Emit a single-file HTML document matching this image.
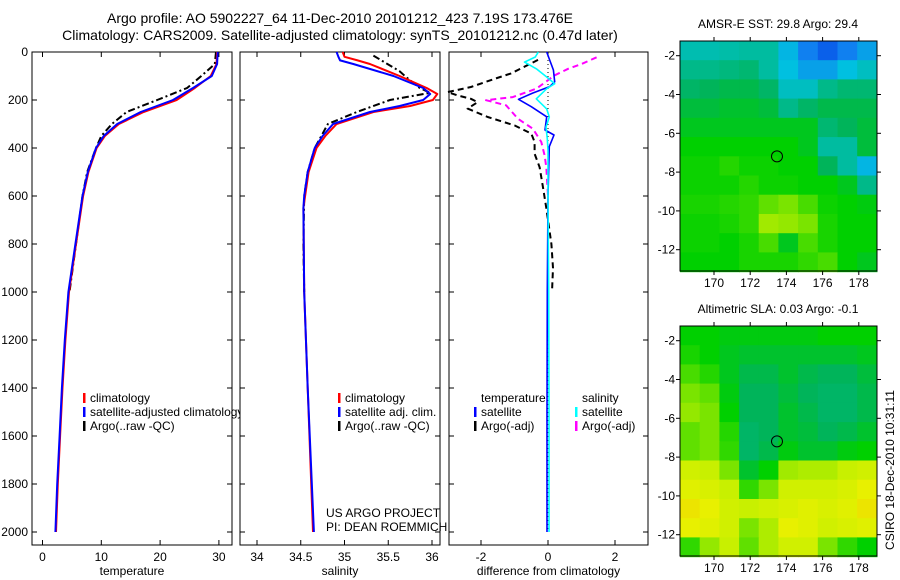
<!DOCTYPE html>
<html><head><meta charset="utf-8">
<style>
html,body{margin:0;padding:0;background:#fff;}
svg{display:block;font-family:"Liberation Sans",sans-serif;}
text{font-size:12px;fill:#000;}
</style></head>
<body>
<svg id="fig" width="900" height="580" viewBox="0 0 900 580" xmlns="http://www.w3.org/2000/svg">
<text x="340" y="23" text-anchor="middle" style="font-size:14px">Argo profile: AO 5902227_64 11-Dec-2010 20101212_423 7.19S 173.476E</text>
<text x="340" y="40" text-anchor="middle" style="font-size:14px">Climatology: CARS2009. Satellite-adjusted climatology: synTS_20101212.nc (0.47d later)</text>
<g id="g1"></g>
<g id="g2"></g>
<g id="g3"></g>
<g id="m1"></g>
<g id="m2"></g>
<text x="0" y="0" transform="translate(894,470) rotate(-90)" text-anchor="middle">CSIRO 18-Dec-2010 10:31:11</text>
</svg>
<script>
// ---------- data ----------
const tDepth = [0,50,100,150,200,250,300,350,400,500,600,800,1000,1200,1400,1600,1800,2000];
const tClim  = [29.7,29.6,28.6,25.9,22.8,17.2,13.0,10.6,9.2,7.8,6.9,5.7,4.5,3.9,3.4,3.0,2.6,2.3];
const tSat   = [29.8,29.7,28.8,25.6,22.2,16.7,12.7,10.4,9.1,7.7,6.8,5.6,4.4,3.8,3.3,2.9,2.5,2.2];
const aDepth = [0,50,100,150,200,250,300,350,400,500,600,800,1000];
const tArgo  = [29.5,29.3,27.0,24.6,19.5,14.3,11.8,10.0,9.1,7.6,6.8,5.7,4.6];
const sDepth = [0,20,35,50,100,150,175,200,225,250,300,350,400,500,600,650,1000,1400,2000];
const sClim  = [34.98,35.0,35.15,35.29,35.63,35.94,36.06,36.01,35.75,35.33,34.91,34.78,34.68,34.59,34.55,34.53,34.54,34.58,34.64];
const sSat   = [34.91,34.93,34.95,35.1,35.56,35.9,35.98,35.9,35.63,35.29,34.87,34.75,34.66,34.58,34.54,34.53,34.54,34.58,34.65];
const sArgoDepth = [15,50,80,100,150,170,200,250,300,400,500,600,800,1000];
const sArgo  = [35.33,35.49,35.63,35.69,35.86,35.98,35.52,35.14,34.81,34.66,34.58,34.54,34.53,34.54];
const dDepthT = [0,75,124,144,171,197,228,270,325,346,394,600,1000,1500,2000];
const dTSat  = [-0.04,0.16,0.2,0.05,-0.45,-0.88,-0.5,-0.04,-0.09,0.18,0.04,0.0,-0.02,-0.03,-0.03];
const dDepthS = [0,21,42,70,104,132,153,195,237,271,313,362,410,600,1000,1500,2000];
const dSSat  = [-0.29,-0.38,-0.7,-0.35,-0.04,0.2,-0.04,-0.35,-0.04,0.04,-0.06,-0.02,0.0,0.0,0.02,0.03,0.03];
const dDepthTA = [33,89,112,146,167,181,195,209,236,271,306,340,375,424,480,564,650,800,900,1000];
const dTArgo = [-0.3,-1.1,-1.6,-2.3,-3.0,-2.7,-2.3,-2.1,-2.4,-1.8,-1.0,-0.5,-0.4,-0.4,-0.25,-0.15,-0.05,0.1,0.15,0.12];
const dDepthSA = [22,50,70,97,153,188,201,222,278,320,375,431,480,600,800,1000];
const dSArgo = [1.45,1.0,0.6,0.2,-0.35,-1.05,-1.85,-1.25,-0.9,-0.45,-0.2,-0.1,-0.05,0.0,0.0,0.0];
const depthTicks = [0,200,400,600,800,1000,1200,1400,1600,1800,2000];
const tTicks = [0,10,20,30];
const sTicks = [34,34.5,35,35.5,36];
const dTicks = [-2,0,2];
// maps: 10 lon columns x 12 lat rows (north to south)
const lonTicks = [170,172,174,176,178];
const latTicks = [-2,-4,-6,-8,-10,-12];
const sstGrid = [
[0.48,0.48,0.49,0.50,0.50,0.40,0.30,0.24,0.30,0.36],
[0.52,0.52,0.53,0.54,0.50,0.42,0.36,0.36,0.42,0.46],
[0.55,0.56,0.57,0.57,0.55,0.46,0.46,0.52,0.54,0.54],
[0.58,0.58,0.59,0.59,0.58,0.52,0.55,0.57,0.57,0.57],
[0.60,0.60,0.60,0.60,0.60,0.60,0.60,0.54,0.56,0.58],
[0.62,0.62,0.62,0.62,0.62,0.62,0.60,0.50,0.50,0.58],
[0.63,0.63,0.65,0.63,0.63,0.62,0.62,0.56,0.50,0.40],
[0.63,0.63,0.63,0.65,0.63,0.63,0.62,0.62,0.60,0.52],
[0.64,0.64,0.65,0.66,0.70,0.72,0.68,0.63,0.62,0.61],
[0.63,0.63,0.64,0.66,0.75,0.74,0.72,0.64,0.62,0.62],
[0.63,0.63,0.62,0.64,0.68,0.60,0.68,0.64,0.62,0.62],
[0.62,0.62,0.62,0.64,0.64,0.64,0.66,0.68,0.62,0.60]];
const slaGrid = [
[0.62,0.62,0.61,0.61,0.61,0.61,0.61,0.62,0.62,0.62],
[0.64,0.62,0.60,0.59,0.59,0.59,0.59,0.59,0.59,0.60],
[0.68,0.65,0.60,0.57,0.57,0.59,0.57,0.56,0.56,0.58],
[0.72,0.70,0.61,0.56,0.56,0.58,0.56,0.55,0.55,0.57],
[0.74,0.72,0.62,0.56,0.56,0.59,0.57,0.55,0.55,0.57],
[0.70,0.72,0.65,0.55,0.56,0.59,0.58,0.56,0.57,0.59],
[0.70,0.72,0.66,0.55,0.57,0.61,0.59,0.59,0.61,0.62],
[0.80,0.78,0.72,0.59,0.62,0.75,0.76,0.76,0.78,0.80],
[0.84,0.82,0.78,0.66,0.72,0.80,0.80,0.80,0.82,0.86],
[0.88,0.86,0.80,0.78,0.80,0.82,0.84,0.82,0.84,0.88],
[0.86,0.84,0.80,0.72,0.76,0.86,0.84,0.80,0.82,0.84],
[0.66,0.74,0.78,0.70,0.76,0.80,0.80,0.72,0.66,0.62]];
const argoLon = 173.48, argoLat = -7.19;

// ---------- helpers ----------
const NS="http://www.w3.org/2000/svg";
function mk(tag,attrs,parent){const e=document.createElementNS(NS,tag);for(const k in attrs)e.setAttribute(k,attrs[k]);parent.appendChild(e);return e;}
const yTop=52, yBot=545;
const yD = d => yTop + d*0.24;

function panel(g,x0,x1,xs,ticks,fmt,label,showY){
  const r=mk('rect',{x:x0,y:yTop,width:x1-x0,height:yBot-yTop,fill:'#fff',stroke:'#000','stroke-width':1},g);
  
  
  ticks.forEach(t=>{const x=xs(t);
    mk('line',{x1:x,x2:x,y1:yTop,y2:yTop+5,stroke:'#000'},g);
    mk('line',{x1:x,x2:x,y1:yBot,y2:yBot-5,stroke:'#000'},g);
    const tx=mk('text',{x:x,y:yBot+16,'text-anchor':'middle'},g);tx.textContent=fmt(t);
    
    
  });
  depthTicks.forEach(d=>{const y=yD(d);
    mk('line',{x1:x0,x2:x0+5,y1:y,y2:y,stroke:'#000'},g);
    mk('line',{x1:x1,x2:x1-5,y1:y,y2:y,stroke:'#000'},g);
    if(showY){const tx=mk('text',{x:x0-4,y:y+4,'text-anchor':'end'},g);tx.textContent=d;
      
      }
  });
  const lb=mk('text',{x:(x0+x1)/2,y:575,'text-anchor':'middle'},g);lb.textContent=label;
  
  
}
function line(g,xs,vals,depths,color,dash,name,w){
  const pts=vals.map((v,i)=>xs(v).toFixed(1)+','+yD(depths[i]).toFixed(1)).join(' ');
  const p=mk('polyline',{points:pts,fill:'none',stroke:color,'stroke-width':w||2,'stroke-dasharray':dash||'none','stroke-linejoin':'round'},g);
  
  
}
function legend(g,x,y,color,txt,name){
  mk('rect',{x:x,y:y-9,width:2.5,height:10,fill:color},g);
  const t=mk('text',{x:x+7,y:y},g);t.textContent=txt;
  
  
}

// ---------- panel 1: temperature ----------
const g1=document.getElementById('g1');
const xT=v=>42.5+v*5.88;
panel(g1,32,232,xT,tTicks,v=>v,'temperature',true);
line(g1,xT,tArgo,aDepth,'#000','7,3,2,3','argo-temperature-line');
line(g1,xT,tClim,tDepth,'#f00',null,'climatology-temperature-line');
line(g1,xT,tSat,tDepth,'#00f',null,'satellite-temperature-line');
legend(g1,83,402,'#f00','climatology','legend-climatology');
legend(g1,83,416,'#00f','satellite-adjusted climatology','legend-satellite-adjusted');
legend(g1,83,430,'#000','Argo(..raw -QC)','legend-argo');

// ---------- panel 2: salinity ----------
const g2=document.getElementById('g2');
const xS=v=>257+(v-34)*87.5;
panel(g2,240,440,xS,sTicks,v=>v,'salinity',false);
line(g2,xS,sArgo,sArgoDepth,'#000','7,3,2,3','argo-salinity-line');
line(g2,xS,sClim,sDepth,'#f00',null,'climatology-salinity-line');
line(g2,xS,sSat,sDepth,'#00f',null,'satellite-salinity-line');
legend(g2,338,402,'#f00','climatology','legend-climatology-sal');
legend(g2,338,416,'#00f','satellite adj. clim.','legend-satellite-sal');
legend(g2,338,430,'#000','Argo(..raw -QC)','legend-argo-sal');
const us=mk('text',{x:326,y:517},g2);us.textContent='US ARGO PROJECT';


const pi=mk('text',{x:326,y:531},g2);pi.textContent='PI: DEAN ROEMMICH';



// ---------- panel 3: difference ----------
const g3=document.getElementById('g3');
const xDf=v=>548+v*33.5;
panel(g3,449,648,xDf,dTicks,v=>v,'difference from climatology',false);
const zl=mk('line',{x1:xDf(0),x2:xDf(0),y1:yTop,y2:yD(2000),stroke:'#000','stroke-width':1,'stroke-dasharray':'1,3'},g3);


line(g3,xDf,dTArgo,dDepthTA,'#000','6,4','argo-temperature-diff');
line(g3,xDf,dSArgo,dDepthSA,'#f0f','6,4','argo-salinity-diff');
line(g3,xDf,dTSat,dDepthT,'#00f',null,'satellite-temperature-diff',1.6);
line(g3,xDf,dSSat,dDepthS,'#0ff',null,'satellite-salinity-diff',1.6);
const lt=mk('text',{x:481,y:402},g3);lt.textContent='temperature';


const ls=mk('text',{x:582,y:402},g3);ls.textContent='salinity';


legend(g3,474,416,'#00f','satellite','legend-temp-satellite');
legend(g3,474,430,'#000','Argo(-adj)','legend-temp-argo');
legend(g3,575,416,'#0ff','satellite','legend-sal-satellite');
legend(g3,575,430,'#f0f','Argo(-adj)','legend-sal-argo');

// ---------- maps ----------
const stops=[[0,[0,0,144]],[0.15,[0,48,224]],[0.3,[16,128,240]],[0.42,[0,192,224]],[0.5,[0,188,160]],[0.56,[0,180,90]],[0.62,[0,208,0]],[0.7,[96,224,0]],[0.78,[200,240,0]],[0.86,[232,240,0]],[0.94,[248,192,0]],[1,[240,120,0]]];
function cmap(v){for(let i=1;i<stops.length;i++){if(v<=stops[i][0]){const a=stops[i-1],b=stops[i],t=(v-a[0])/(b[0]-a[0]);const c=a[1].map((x,k)=>Math.round(x+(b[1][k]-x)*t));return 'rgb('+c.join(',')+')';}}return 'rgb(240,120,0)';}
function map(g,top,grid,title){
  const bx0=680,bx1=877,by0=top,by1=top+230;
  const lonX=l=>714+(l-170)*18.1;
  const latY=l=>top+14.7+(-2-l)*19.4;
  const lon0=168.12,lon1=179.0,lat0=-1.24,lat1=-13.13;
  const nc=grid[0].length,nr=grid.length;
  const dlon=(lon1-lon0)/nc,dlat=(lat0-lat1)/nr;
  grid.forEach((row,r)=>row.forEach((v,c)=>{
    const xa=lonX(lon0+c*dlon),xb=lonX(lon0+(c+1)*dlon);
    const ya=latY(lat0-r*dlat),yb=latY(lat0-(r+1)*dlat);
    const cell=mk('rect',{x:xa.toFixed(1),y:ya.toFixed(1),width:(xb-xa+0.6).toFixed(1),height:(yb-ya+0.6).toFixed(1),fill:cmap(v)},g);
    
    
  }));
  const fr=mk('rect',{x:bx0,y:by0,width:bx1-bx0,height:by1-by0,fill:'none',stroke:'#000','stroke-width':1},g);
  
  
  lonTicks.forEach(l=>{const x=lonX(l);
    mk('line',{x1:x,x2:x,y1:by0,y2:by0-4,stroke:'#000'},g);
    mk('line',{x1:x,x2:x,y1:by1,y2:by1+4,stroke:'#000'},g);
    const t=mk('text',{x:x,y:by1+16,'text-anchor':'middle'},g);t.textContent=l;
    
    });
  latTicks.forEach(l=>{const y=latY(l);
    mk('line',{x1:bx0,x2:bx0-4,y1:y,y2:y,stroke:'#000'},g);
    mk('line',{x1:bx1,x2:bx1+4,y1:y,y2:y,stroke:'#000'},g);
    const t=mk('text',{x:bx0-5,y:y+4,'text-anchor':'end'},g);t.textContent=l;
    
    });
  const c=mk('circle',{cx:lonX(argoLon),cy:latY(argoLat),r:5.5,fill:'none',stroke:'#000','stroke-width':1},g);
  
  
  const tt=mk('text',{x:778,y:top-13,'text-anchor':'middle'},g);tt.textContent=title;
  
  
}
map(document.getElementById('m1'),41,sstGrid,'AMSR-E SST: 29.8 Argo: 29.4');
map(document.getElementById('m2'),326,slaGrid,'Altimetric SLA: 0.03 Argo: -0.1');
</script>
</body></html>
